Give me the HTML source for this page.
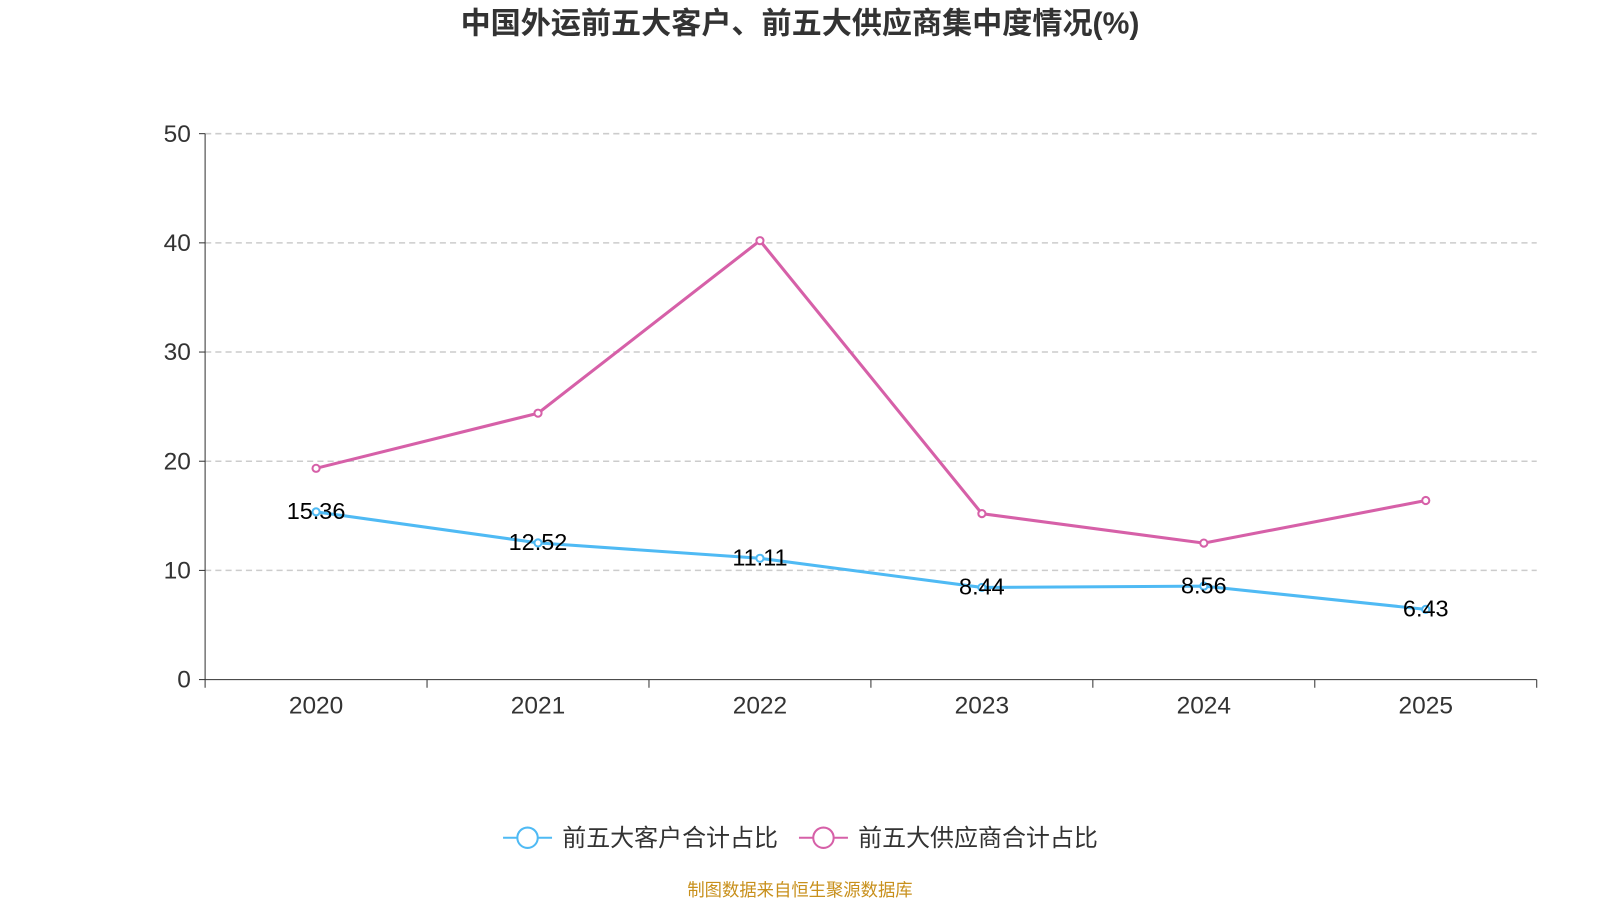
<!DOCTYPE html>
<html><head><meta charset="utf-8"><style>
body{margin:0;background:#fff;width:1600px;height:900px;overflow:hidden;font-family:"Liberation Sans","Noto Sans CJK SC",sans-serif}
</style></head><body>
<svg width="1600" height="900" font-family="Liberation Sans, Noto Sans CJK SC, sans-serif">
<g transform="scale(1.0204)">
<text x="784" y="33" text-anchor="middle" font-size="29.5" font-weight="bold" fill="#333">中国外运前五大客户、前五大供应商集中度情况(%)</text>
<g id="grid"></g><g id="axes"></g><g id="series"></g>
<g>
<g><line x1="493" y1="821" x2="541" y2="821" stroke="#4fbaf4" stroke-width="2"/><circle cx="517" cy="821" r="10" fill="#fff" stroke="#4fbaf4" stroke-width="2"/><text x="551" y="829" font-size="23.5" fill="#333">前五大客户合计占比</text></g>
<g><line x1="783" y1="821" x2="831" y2="821" stroke="#d660a8" stroke-width="2"/><circle cx="807" cy="821" r="10" fill="#fff" stroke="#d660a8" stroke-width="2"/><text x="841" y="829" font-size="23.5" fill="#333">前五大供应商合计占比</text></g>
</g>
<text x="784" y="878" text-anchor="middle" font-size="17" fill="#c8901c">制图数据来自恒生聚源数据库</text>
</g>
</svg>
<script>
const categories=["2020","2021","2022","2023","2024","2025"];
const customerValues=[15.36,12.52,11.11,8.44,8.56,6.43];
const supplierValues=[19.35,24.4,40.2,15.2,12.5,16.4];
const yTicks=[0,10,20,30,40,50];
const NS="http://www.w3.org/2000/svg";
const X0=201,X1=1506,Y0=666,Y1=131,YMAX=50;
const bw=(X1-X0)/categories.length;
const xS=i=>X0+bw*(i+0.5);
const yS=v=>Y0-(v/YMAX)*(Y0-Y1);
function mk(p,t,a){const e=document.createElementNS(NS,t);for(const k in a)e.setAttribute(k,a[k]);p.appendChild(e);return e;}
const grid=document.getElementById('grid'),axes=document.getElementById('axes'),ser=document.getElementById('series');
yTicks.forEach(v=>{
 if(v>0){const g=mk(grid,'line',{x1:X0,x2:X1,y1:yS(v),y2:yS(v),stroke:'#ccc','stroke-dasharray':'6,4','stroke-width':1.5});
 
 }
 mk(axes,'line',{x1:X0-6,x2:X0,y1:yS(v),y2:yS(v),stroke:'#333'});
 const t=mk(axes,'text',{x:X0-14,y:yS(v)+8,'text-anchor':'end','font-size':24,fill:'#333'});t.textContent=v;
 
 
});
mk(axes,'line',{x1:X0,x2:X0,y1:Y1,y2:Y0,stroke:'#333'});
mk(axes,'line',{x1:X0,x2:X1,y1:Y0,y2:Y0,stroke:'#333'});
for(let i=0;i<=categories.length;i++)mk(axes,'line',{x1:X0+bw*i,x2:X0+bw*i,y1:Y0,y2:Y0+8,stroke:'#333'});
categories.forEach((c,i)=>{const t=mk(axes,'text',{x:xS(i),y:699,'text-anchor':'middle','font-size':24,fill:'#333'});t.textContent=c;
 
 });
function line(vals,color,name,labels){
 const p=mk(ser,'polyline',{points:vals.map((v,i)=>xS(i)+','+yS(v)).join(' '),fill:'none',stroke:color,'stroke-width':3});
 
 
 vals.forEach((v,i)=>{const c=mk(ser,'circle',{cx:xS(i),cy:yS(v),r:3.5,fill:'#fff',stroke:color,'stroke-width':2});
  
  
  if(labels){const t=mk(ser,'text',{x:xS(i),y:yS(v)+7,'text-anchor':'middle','font-size':23,fill:'#000'});t.textContent=v.toFixed(2);
   
   }
 });
}
line(supplierValues,'#d660a8','supplier',false);
line(customerValues,'#4fbaf4','customer',true);
</script>
</body></html>
